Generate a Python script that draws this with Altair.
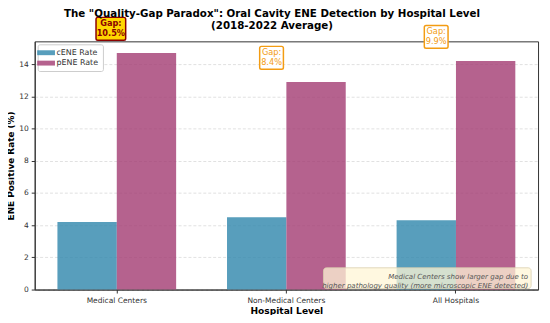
import altair as alt
import pandas as pd

categories = ["Medical Centers", "Non-Medical Centers", "All Hospitals"]
cene_rate = [4.2, 4.5, 4.3]
pene_rate = [14.7, 12.9, 14.2]
gap_values = [10.5, 8.4, 9.9]
series = ["cENE Rate", "pENE Rate"]
series_colors = ["#2E86AB", "#A23B72"]
y_ticks = [0, 2, 4, 6, 8, 10, 12, 14]
title_lines = ['The "Quality-Gap Paradox": Oral Cavity ENE Detection by Hospital Level',
               "(2018-2022 Average)"]
note_lines = ["Medical Centers show larger gap due to",
              "higher pathology quality (more microscopic ENE detected)"]

FONT = "DejaVu Sans"
W, H = 509, 251

bars_df = pd.DataFrame({
    "level": categories * 2,
    "series": [series[0]] * len(categories) + [series[1]] * len(categories),
    "rate": cene_rate + pene_rate,
})
gap_df = pd.DataFrame({"level": categories, "pene": pene_rate, "gap": gap_values})
gap_df["label"] = ["Gap:\n" + f"{g}%" for g in gap_values]

xscale = alt.Scale(domain=categories, paddingInner=0.3, paddingOuter=0.134)
yscale = alt.Scale(domain=[0, 15.42], nice=False)

x_axis = alt.Axis(title="Hospital Level", labelAngle=0, labelFontSize=7.6,
                  labelColor="#333", titleFontSize=9.2, titleFontWeight="bold",
                  titleColor="#000", domainColor="#333", tickColor="#333",
                  tickSize=3.5, labelPadding=3.5, titlePadding=2.5, grid=False)
y_axis = alt.Axis(title="ENE Positive Rate (%)", values=y_ticks, labelFontSize=7.6,
                  labelColor="#333", titleFontSize=9, titleFontWeight="bold",
                  titleColor="#000", domainColor="#333", tickColor="#333",
                  tickSize=3.5, labelPadding=3, titlePadding=3, labelOverlap=False,
                  grid=True, gridDash=[3, 2], gridColor="#cccccc", gridOpacity=0.6)

bars = alt.Chart(bars_df).mark_bar(opacity=0.8).encode(
    x=alt.X("level:N", scale=xscale, sort=categories, axis=x_axis),
    xOffset=alt.XOffset("series:N", sort=series,
                        scale=alt.Scale(paddingInner=0, paddingOuter=0)),
    y=alt.Y("rate:Q", scale=yscale, axis=y_axis),
    color=alt.Color("series:N", scale=alt.Scale(domain=series, range=series_colors),
                    legend=alt.Legend(title=None, orient="top-left", offset=3,
                                      labelFontSize=8, labelColor="#333", labelOffset=6,
                                      symbolType="M-2,-0.55H2V0.55H-2Z", symbolSize=81,
                                      symbolOpacity=0.8, symbolStrokeWidth=0,
                                      fillColor="white", strokeColor="#cccccc",
                                      padding=4, cornerRadius=2, rowPadding=1.5)),
)


def rounded(hw, hh, r):
    return (f"M{-hw + r},{-hh}H{hw - r}Q{hw},{-hh} {hw},{-hh + r}V{hh - r}"
            f"Q{hw},{hh} {hw - r},{hh}H{-hw + r}Q{-hw},{hh} {-hw},{hh - r}"
            f"V{-hh + r}Q{-hw},{-hh} {-hw + r},{-hh}Z")


gap_layers = []
label_dx = [-6, -15, -20]
for i, cat in enumerate(categories):
    base = alt.Chart(gap_df).transform_filter(alt.datum.level == cat).transform_calculate(
        ypos="datum.pene + 1.5")
    highlight = i == 0
    if highlight:
        box = base.mark_point(shape=rounded(1, 0.77, 0.12), size=900, filled=True,
                              fill="#FFD700", stroke="#8B0000", strokeWidth=1.5,
                              opacity=1, fillOpacity=1, xOffset=label_dx[i])
        txt = base.mark_text(fontSize=8.3, fontWeight="bold", color="#8B0000", font=FONT,
                             lineBreak="\n", lineHeight=10, baseline="middle",
                             dx=label_dx[i], dy=-5)
    else:
        box = base.mark_point(shape=rounded(1, 0.96, 0.15), size=576, filled=True,
                              fill="white", stroke="#F39C12", strokeWidth=1.5,
                              opacity=1, fillOpacity=1, xOffset=label_dx[i])
        txt = base.mark_text(fontSize=8.3, color="#F39C12", font=FONT,
                             lineBreak="\n", lineHeight=10, baseline="middle",
                             dx=label_dx[i], dy=-5)
    enc = dict(x=alt.X("level:N", scale=xscale, sort=categories, axis=x_axis),
               y=alt.Y("ypos:Q", scale=yscale, axis=y_axis))
    gap_layers.append(box.encode(**enc))
    gap_layers.append(txt.encode(text="label:N", **enc))

one = pd.DataFrame({"k": [0]})
note_box = alt.Chart(one).mark_rect(fill="#FFF5D6", fillOpacity=0.75, stroke="#d9cfae",
                                    strokeWidth=0.8, cornerRadius=3).encode(
    x=alt.value(292), x2=alt.value(502), y=alt.value(229), y2=alt.value(250))
note_text = alt.Chart(one).mark_text(align="right", baseline="middle", fontStyle="italic",
                                     fontSize=7.1, color="#555", font=FONT,
                                     lineBreak="\n", lineHeight=8.5).encode(
    x=alt.value(499), y=alt.value(238.5), text=alt.value("\n".join(note_lines)))

title1 = alt.Chart(one).mark_text(fontSize=10.4, fontWeight="bold", font=FONT, color="#000",
                                  baseline="middle").encode(
    x=alt.value(240), y=alt.value(-28), text=alt.value(title_lines[0]))
title2 = alt.Chart(one).mark_text(fontSize=10.4, fontWeight="bold", font=FONT, color="#000",
                                  baseline="middle").encode(
    x=alt.value(240), y=alt.value(-15.5), text=alt.value(title_lines[1]))

chart = alt.layer(bars, *gap_layers, note_box, note_text, title1, title2).properties(
    width=W, height=H,
    autosize=alt.AutoSizeParams(type="none"),
    padding={"left": 27, "top": 32, "right": 4, "bottom": 24},
).configure_view(stroke="#333", strokeWidth=1).configure_axis(
    labelFont=FONT, titleFont=FONT).configure_legend(labelFont=FONT)

chart.save("out.html", embed_options={"renderer": "svg", "actions": False})
